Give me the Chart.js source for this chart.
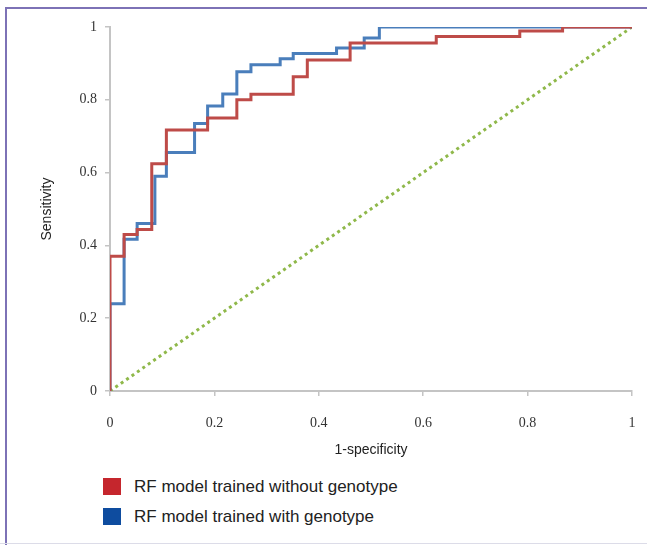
<!DOCTYPE html>
<html>
<head>
<meta charset="utf-8">
<title>ROC curves</title>
<script src="https://cdn.jsdelivr.net/npm/chart.js@4.4.1/dist/chart.umd.min.js"></script>
<style>
  body{margin:0;background:#fff;}
  #page{position:absolute;left:0;top:0;width:647px;height:545px;overflow:hidden;background:#fff;}
  .edge-top{position:absolute;left:5px;top:7px;width:642px;height:2px;background:#7d72b6;}
  .edge-left{position:absolute;left:5px;top:7px;width:2px;height:538px;background:#7d72b6;}
  .edge-bottom{position:absolute;left:0;top:543px;width:647px;height:1px;background:#dcdce8;}
  #box{position:absolute;left:0;top:0;width:647px;height:470px;}
  #legend{position:absolute;left:103px;top:478px;font-family:"Liberation Sans",Arial,sans-serif;font-size:17px;color:#222;}
  #legend .item{height:30px;display:flex;align-items:flex-start;}
  #legend .sw{width:18px;height:17px;margin-right:13px;flex:none;}
  #legend .txt{line-height:17px;}
</style>
</head>
<body>
<div id="page">
  <div class="edge-top"></div>
  <div class="edge-left"></div>
  <div class="edge-bottom"></div>
  <div id="box"><canvas id="roc-chart"></canvas></div>
  <div id="legend"></div>
</div>
<script>
//DATA (step corners: x where the curve rises, new sensitivity)
var fprWithout = [0, 0, 0.027, 0.052, 0.08, 0.108, 0.187, 0.243, 0.27, 0.351, 0.378, 0.46, 0.625, 0.785, 0.867, 1];
var tprWithout = [0, 0.37, 0.43, 0.444, 0.624, 0.717, 0.75, 0.80, 0.815, 0.863, 0.909, 0.956, 0.974, 0.989, 1, 1];

var fprWith = [0, 0, 0.027, 0.052, 0.086, 0.108, 0.162, 0.187, 0.216, 0.243, 0.27, 0.326, 0.351, 0.434, 0.487, 0.516, 1];
var tprWith = [0, 0.24, 0.417, 0.46, 0.59, 0.655, 0.735, 0.783, 0.816, 0.877, 0.896, 0.913, 0.927, 0.942, 0.97, 1, 1];

var chanceX = [0, 1];
var chanceY = [0, 1];

var tickValues = [0, 0.2, 0.4, 0.6, 0.8, 1];
var tickLabels = ["0", "0.2", "0.4", "0.6", "0.8", "1"];
var seriesNames = ["RF model trained without genotype", "RF model trained with genotype"];
var legendColors = ["#c5262d", "#0e4c9f"];

//Build points
function toPoints(xs, ys){
    var pts = [];
    for (var i = 0; i < xs.length; i++){
        pts.push({x: xs[i], y: ys[i]});
    }
    return pts;
}

function setTicks(scale){
    scale.ticks = tickValues.map(function(v){ return {value: v}; });
}

function tickText(value){
    var i = tickValues.indexOf(value);
    return i >= 0 ? tickLabels[i] : "";
}

var tickFont = {family: "'Liberation Serif', 'Times New Roman', serif", size: 14};
var titleFont = {family: "'Liberation Sans', Arial, sans-serif", size: 14};

//CHART
var rocChart = new Chart(document.getElementById("roc-chart"), {
    type: 'scatter',
    data: {
        datasets: [
            {
                label: seriesNames[0],
                data: toPoints(fprWithout, tprWithout),
                showLine: true,
                stepped: 'before',
                borderColor: "#be4b48",
                borderWidth: 3,
                pointRadius: 0,
                fill: false
            },
            {
                label: seriesNames[1],
                data: toPoints(fprWith, tprWith),
                showLine: true,
                stepped: 'before',
                borderColor: "#4a7ebb",
                borderWidth: 3,
                pointRadius: 0,
                fill: false
            },
            {
                label: "chance",
                data: toPoints(chanceX, chanceY),
                showLine: true,
                borderColor: "#8fb84a",
                borderWidth: 3,
                borderDash: [3, 3.6],
                pointRadius: 0,
                fill: false
            }
        ]
    },
    options: {
        responsive: true,
        maintainAspectRatio: false,
        animation: false,
        layout: {padding: {top: 27, right: 15, bottom: 0, left: 0}},
        plugins: {
            legend: {display: false},
            tooltip: {enabled: false}
        },
        scales: {
            x: {
                type: 'linear',
                min: 0,
                max: 1,
                afterBuildTicks: setTicks,
                afterFit: function(scale){
                    scale.height = 79;
                    scale.paddingLeft = 0;
                    scale.paddingRight = 0;
                },
                grid: {drawOnChartArea: false, drawTicks: true, tickLength: 5, color: "#c4c4c4", lineWidth: 1.5},
                border: {display: true, color: "#c4c4c4", width: 2},
                ticks: {font: tickFont, color: "#333", padding: 19, maxRotation: 0, autoSkip: false, callback: tickText},
                title: {display: true, text: "1-specificity", font: titleFont, color: "#222", padding: {top: 0, bottom: 11}}
            },
            y: {
                type: 'linear',
                min: 0,
                max: 1,
                afterBuildTicks: setTicks,
                afterFit: function(scale){ scale.width = 110; },
                grid: {drawOnChartArea: false, drawTicks: true, tickLength: 5, color: "#c4c4c4", lineWidth: 1.5},
                border: {display: true, color: "#c4c4c4", width: 2},
                ticks: {font: tickFont, color: "#333", padding: 8, callback: tickText},
                title: {display: true, text: "Sensitivity", font: titleFont, color: "#222", padding: {top: 39, bottom: 0}}
            }
        }
    }
});

//LEGEND
var legendBox = document.getElementById("legend");
seriesNames.forEach(function(name, i){
    var item = document.createElement("div");
    item.className = "item";
    var sw = document.createElement("span");
    sw.className = "sw";
    sw.style.background = legendColors[i];
    var txt = document.createElement("span");
    txt.className = "txt";
    txt.textContent = name;
    item.appendChild(sw);
    item.appendChild(txt);
    legendBox.appendChild(item);
});
</script>
</body>
</html>
